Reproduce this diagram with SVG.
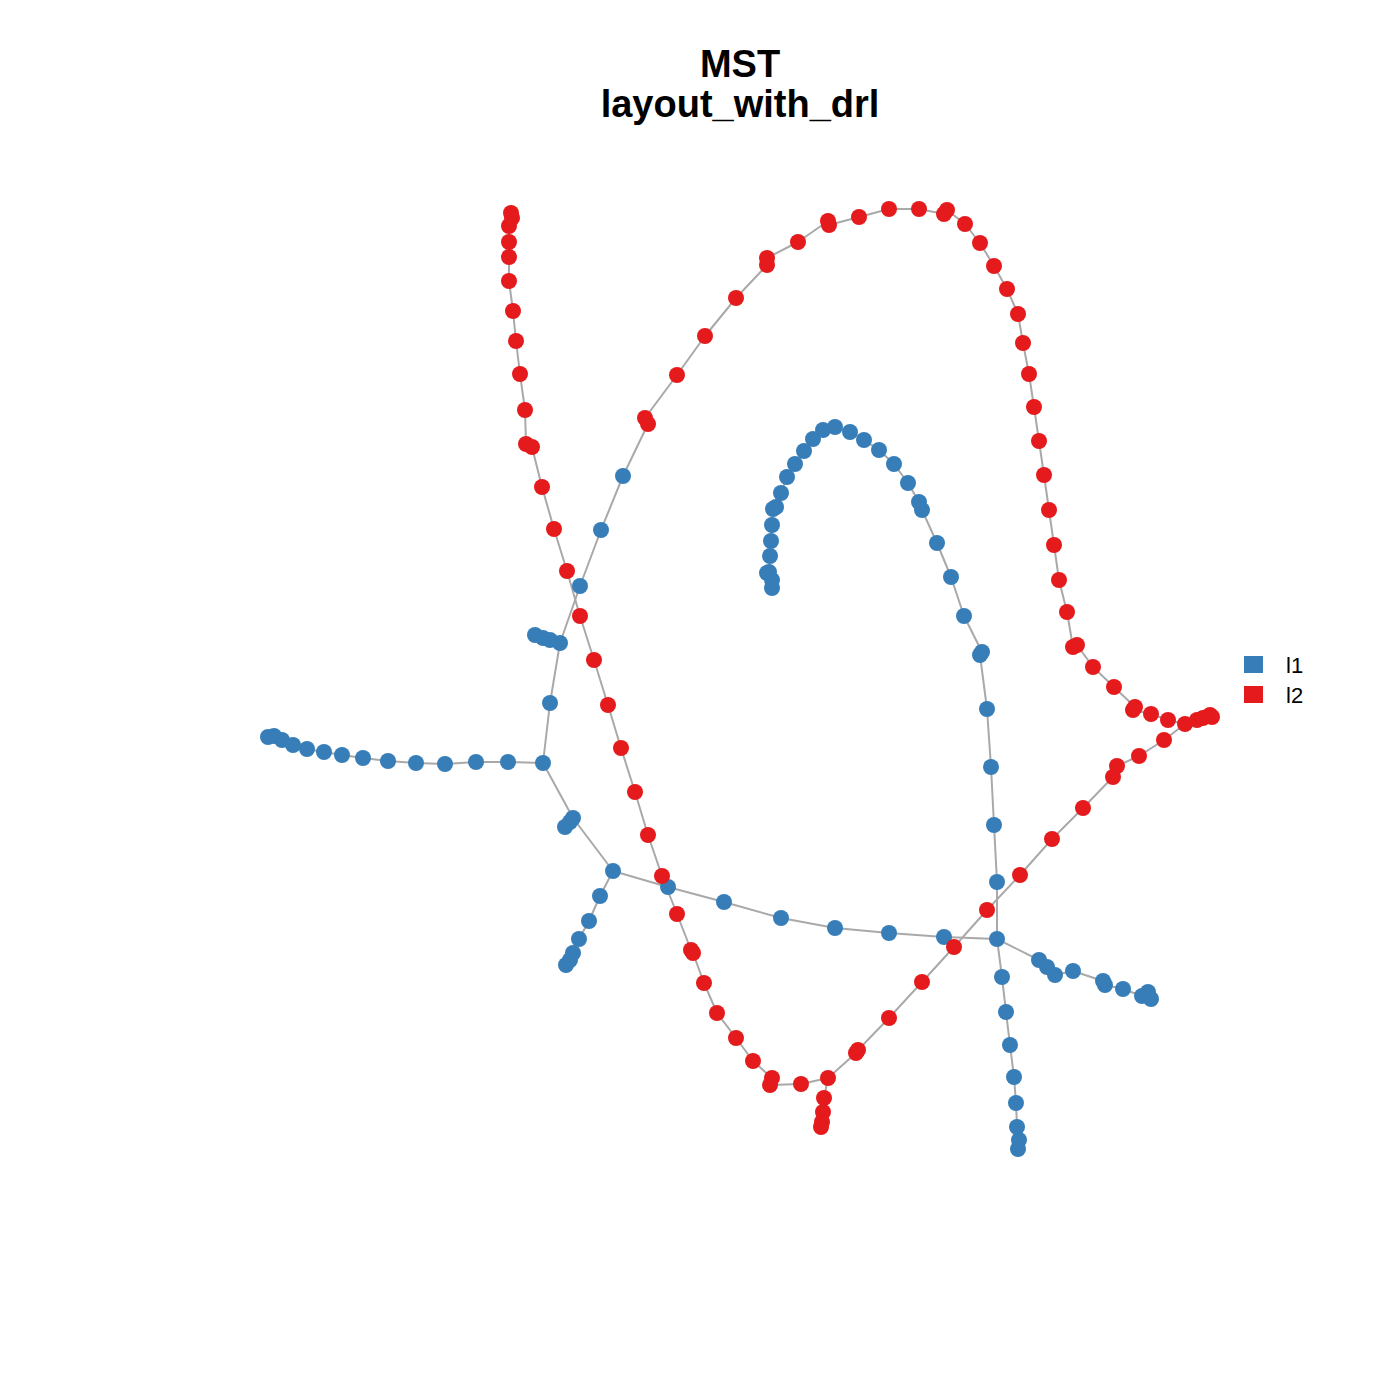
<svg xmlns="http://www.w3.org/2000/svg" width="1400" height="1400" viewBox="0 0 1400 1400">
<style>
.e{fill:none;stroke:#A9A9A9;stroke-width:2;stroke-linejoin:round}
.b{fill:#377EB8}
.r{fill:#E41A1C}
.t{font-family:"Liberation Sans",Arial,sans-serif;font-weight:bold;font-size:38px;text-anchor:middle;fill:#000}
.l{font-family:"Liberation Sans",Arial,sans-serif;font-size:22px;fill:#000}
</style>
<rect width="1400" height="1400" fill="#fff"/>
<text class="t" x="740" y="77">MST</text>
<text class="t" x="740" y="117">layout_with_drl</text>
<g id="connectors">
<polyline class="e" points="511,213 512,218 509,226 509,242 509,257 509,281 513,311 516,341 520,374 525,410 526,444 532,447 542,487 554,529 567,571 580,616 594,660 608,705 621,748 635,792 648,835 662,876 677,914 691,950 693,953 704,983 717,1013 736,1038 753,1061 772,1078 770,1085 801,1084 828,1078 856,1053 858,1050 889,1018 922,982 954,947 987,910 1020,875 1052,839 1083,808 1113,777 1117,766 1139,756 1164,740 1185,724 1197,720 1203,718 1210,715 1212,717"/>
<polyline class="e" points="828,1078 824,1098 823,1112 822,1122 821,1127"/>
<polyline class="e" points="1185,724 1168,720 1151,714 1133,710 1135,707 1114,687 1093,667 1077,645 1073,647 1067,612 1059,580 1054,545 1049,510 1044,475 1039,441 1034,407 1029,374 1023,343 1018,314 1007,289 994,266 980,243 965,224 947,210 944,214 919,209 889,209 859,217 829,225 828,221 798,242 767,258 767,265 736,298 705,336 677,375 645,418 648,424 623,476 601,530 580,586 560,643 550,703 543,763"/>
<polyline class="e" points="560,643 550,640 543,638 535,635"/>
<polyline class="e" points="543,763 508,762 476,762 445,764 416,763 388,761 363,758 342,755 324,752 307,749 293,745 282,740 274,736 268,737"/>
<polyline class="e" points="543,763 573,818 613,871 668,887 724,902 781,918 835,928 889,933 944,937 997,939 1039,960 1047,967 1055,975 1073,971 1103,981 1105,985 1123,989 1142,996 1148,992 1151,999"/>
<polyline class="e" points="573,818 570,822 565,827"/>
<polyline class="e" points="613,871 600,896 589,921 579,939 573,953 570,960 566,965"/>
<polyline class="e" points="997,939 1002,977 1006,1012 1010,1045 1014,1077 1016,1103 1017,1127 1019,1140 1018,1149"/>
<polyline class="e" points="997,939 997,882 994,825 991,767 987,709 980,655 982,652 964,616 951,577 937,543 922,510 919,502 908,483 894,464 879,450 864,440 850,432 835,427 823,430 813,439 804,451 795,464 787,477 781,493 776,507 773,509 772,525 771,541 770,556 769,572 767,573 772,580 772,588"/>
</g>
<g id="nodes-l1" class="b">
<g id="b1"><circle cx="623" cy="476" r="8"/></g>
<g id="b2"><circle cx="601" cy="530" r="8"/></g>
<g id="b3"><circle cx="580" cy="586" r="8"/></g>
<g id="b4"><circle cx="535" cy="635" r="8"/></g>
<g id="b5"><circle cx="543" cy="638" r="8"/></g>
<g id="b6"><circle cx="550" cy="640" r="8"/></g>
<g id="b7"><circle cx="560" cy="643" r="8"/></g>
<g id="b8"><circle cx="550" cy="703" r="8"/></g>
<g id="b9"><circle cx="543" cy="763" r="8"/></g>
<g id="b10"><circle cx="508" cy="762" r="8"/></g>
<g id="b11"><circle cx="476" cy="762" r="8"/></g>
<g id="b12"><circle cx="445" cy="764" r="8"/></g>
<g id="b13"><circle cx="416" cy="763" r="8"/></g>
<g id="b14"><circle cx="388" cy="761" r="8"/></g>
<g id="b15"><circle cx="363" cy="758" r="8"/></g>
<g id="b16"><circle cx="342" cy="755" r="8"/></g>
<g id="b17"><circle cx="324" cy="752" r="8"/></g>
<g id="b18"><circle cx="307" cy="749" r="8"/></g>
<g id="b19"><circle cx="293" cy="745" r="8"/></g>
<g id="b20"><circle cx="282" cy="740" r="8"/></g>
<g id="b21"><circle cx="274" cy="736" r="8"/></g>
<g id="b22"><circle cx="268" cy="737" r="8"/></g>
<g id="b23"><circle cx="573" cy="818" r="8"/></g>
<g id="b24"><circle cx="570" cy="822" r="8"/></g>
<g id="b25"><circle cx="565" cy="827" r="8"/></g>
<g id="b26"><circle cx="613" cy="871" r="8"/></g>
<g id="b27"><circle cx="600" cy="896" r="8"/></g>
<g id="b28"><circle cx="589" cy="921" r="8"/></g>
<g id="b29"><circle cx="579" cy="939" r="8"/></g>
<g id="b30"><circle cx="573" cy="953" r="8"/></g>
<g id="b31"><circle cx="570" cy="960" r="8"/></g>
<g id="b32"><circle cx="566" cy="965" r="8"/></g>
<g id="b33"><circle cx="668" cy="887" r="8"/></g>
<g id="b34"><circle cx="724" cy="902" r="8"/></g>
<g id="b35"><circle cx="781" cy="918" r="8"/></g>
<g id="b36"><circle cx="835" cy="928" r="8"/></g>
<g id="b37"><circle cx="889" cy="933" r="8"/></g>
<g id="b38"><circle cx="944" cy="937" r="8"/></g>
<g id="b39"><circle cx="997" cy="939" r="8"/></g>
<g id="b40"><circle cx="1039" cy="960" r="8"/></g>
<g id="b41"><circle cx="1047" cy="967" r="8"/></g>
<g id="b42"><circle cx="1055" cy="975" r="8"/></g>
<g id="b43"><circle cx="1073" cy="971" r="8"/></g>
<g id="b44"><circle cx="1103" cy="981" r="8"/></g>
<g id="b45"><circle cx="1105" cy="985" r="8"/></g>
<g id="b46"><circle cx="1123" cy="989" r="8"/></g>
<g id="b47"><circle cx="1142" cy="996" r="8"/></g>
<g id="b48"><circle cx="1148" cy="992" r="8"/></g>
<g id="b49"><circle cx="1151" cy="999" r="8"/></g>
<g id="b50"><circle cx="1002" cy="977" r="8"/></g>
<g id="b51"><circle cx="1006" cy="1012" r="8"/></g>
<g id="b52"><circle cx="1010" cy="1045" r="8"/></g>
<g id="b53"><circle cx="1014" cy="1077" r="8"/></g>
<g id="b54"><circle cx="1016" cy="1103" r="8"/></g>
<g id="b55"><circle cx="1017" cy="1127" r="8"/></g>
<g id="b56"><circle cx="1019" cy="1140" r="8"/></g>
<g id="b57"><circle cx="1018" cy="1149" r="8"/></g>
<g id="b58"><circle cx="997" cy="882" r="8"/></g>
<g id="b59"><circle cx="994" cy="825" r="8"/></g>
<g id="b60"><circle cx="991" cy="767" r="8"/></g>
<g id="b61"><circle cx="987" cy="709" r="8"/></g>
<g id="b62"><circle cx="980" cy="655" r="8"/></g>
<g id="b63"><circle cx="982" cy="652" r="8"/></g>
<g id="b64"><circle cx="964" cy="616" r="8"/></g>
<g id="b65"><circle cx="951" cy="577" r="8"/></g>
<g id="b66"><circle cx="937" cy="543" r="8"/></g>
<g id="b67"><circle cx="922" cy="510" r="8"/></g>
<g id="b68"><circle cx="919" cy="502" r="8"/></g>
<g id="b69"><circle cx="908" cy="483" r="8"/></g>
<g id="b70"><circle cx="894" cy="464" r="8"/></g>
<g id="b71"><circle cx="879" cy="450" r="8"/></g>
<g id="b72"><circle cx="864" cy="440" r="8"/></g>
<g id="b73"><circle cx="850" cy="432" r="8"/></g>
<g id="b74"><circle cx="835" cy="427" r="8"/></g>
<g id="b75"><circle cx="823" cy="430" r="8"/></g>
<g id="b76"><circle cx="813" cy="439" r="8"/></g>
<g id="b77"><circle cx="804" cy="451" r="8"/></g>
<g id="b78"><circle cx="795" cy="464" r="8"/></g>
<g id="b79"><circle cx="787" cy="477" r="8"/></g>
<g id="b80"><circle cx="781" cy="493" r="8"/></g>
<g id="b81"><circle cx="776" cy="507" r="8"/></g>
<g id="b82"><circle cx="773" cy="509" r="8"/></g>
<g id="b83"><circle cx="772" cy="525" r="8"/></g>
<g id="b84"><circle cx="771" cy="541" r="8"/></g>
<g id="b85"><circle cx="770" cy="556" r="8"/></g>
<g id="b86"><circle cx="769" cy="572" r="8"/></g>
<g id="b87"><circle cx="767" cy="573" r="8"/></g>
<g id="b88"><circle cx="772" cy="580" r="8"/></g>
<g id="b89"><circle cx="772" cy="588" r="8"/></g>
</g>
<g id="nodes-l2" class="r">
<g id="r1"><circle cx="511" cy="213" r="8"/></g>
<g id="r2"><circle cx="512" cy="218" r="8"/></g>
<g id="r3"><circle cx="509" cy="226" r="8"/></g>
<g id="r4"><circle cx="509" cy="242" r="8"/></g>
<g id="r5"><circle cx="509" cy="257" r="8"/></g>
<g id="r6"><circle cx="509" cy="281" r="8"/></g>
<g id="r7"><circle cx="513" cy="311" r="8"/></g>
<g id="r8"><circle cx="516" cy="341" r="8"/></g>
<g id="r9"><circle cx="520" cy="374" r="8"/></g>
<g id="r10"><circle cx="525" cy="410" r="8"/></g>
<g id="r11"><circle cx="526" cy="444" r="8"/></g>
<g id="r12"><circle cx="532" cy="447" r="8"/></g>
<g id="r13"><circle cx="542" cy="487" r="8"/></g>
<g id="r14"><circle cx="554" cy="529" r="8"/></g>
<g id="r15"><circle cx="567" cy="571" r="8"/></g>
<g id="r16"><circle cx="580" cy="616" r="8"/></g>
<g id="r17"><circle cx="594" cy="660" r="8"/></g>
<g id="r18"><circle cx="608" cy="705" r="8"/></g>
<g id="r19"><circle cx="621" cy="748" r="8"/></g>
<g id="r20"><circle cx="635" cy="792" r="8"/></g>
<g id="r21"><circle cx="648" cy="835" r="8"/></g>
<g id="r22"><circle cx="662" cy="876" r="8"/></g>
<g id="r23"><circle cx="677" cy="914" r="8"/></g>
<g id="r24"><circle cx="691" cy="950" r="8"/></g>
<g id="r25"><circle cx="693" cy="953" r="8"/></g>
<g id="r26"><circle cx="704" cy="983" r="8"/></g>
<g id="r27"><circle cx="717" cy="1013" r="8"/></g>
<g id="r28"><circle cx="736" cy="1038" r="8"/></g>
<g id="r29"><circle cx="753" cy="1061" r="8"/></g>
<g id="r30"><circle cx="772" cy="1078" r="8"/></g>
<g id="r31"><circle cx="770" cy="1085" r="8"/></g>
<g id="r32"><circle cx="801" cy="1084" r="8"/></g>
<g id="r33"><circle cx="828" cy="1078" r="8"/></g>
<g id="r34"><circle cx="824" cy="1098" r="8"/></g>
<g id="r35"><circle cx="823" cy="1112" r="8"/></g>
<g id="r36"><circle cx="822" cy="1122" r="8"/></g>
<g id="r37"><circle cx="821" cy="1127" r="8"/></g>
<g id="r38"><circle cx="856" cy="1053" r="8"/></g>
<g id="r39"><circle cx="858" cy="1050" r="8"/></g>
<g id="r40"><circle cx="889" cy="1018" r="8"/></g>
<g id="r41"><circle cx="922" cy="982" r="8"/></g>
<g id="r42"><circle cx="954" cy="947" r="8"/></g>
<g id="r43"><circle cx="987" cy="910" r="8"/></g>
<g id="r44"><circle cx="1020" cy="875" r="8"/></g>
<g id="r45"><circle cx="1052" cy="839" r="8"/></g>
<g id="r46"><circle cx="1083" cy="808" r="8"/></g>
<g id="r47"><circle cx="1113" cy="777" r="8"/></g>
<g id="r48"><circle cx="1117" cy="766" r="8"/></g>
<g id="r49"><circle cx="1139" cy="756" r="8"/></g>
<g id="r50"><circle cx="1164" cy="740" r="8"/></g>
<g id="r51"><circle cx="1185" cy="724" r="8"/></g>
<g id="r52"><circle cx="1197" cy="720" r="8"/></g>
<g id="r53"><circle cx="1203" cy="718" r="8"/></g>
<g id="r54"><circle cx="1210" cy="715" r="8"/></g>
<g id="r55"><circle cx="1212" cy="717" r="8"/></g>
<g id="r56"><circle cx="1168" cy="720" r="8"/></g>
<g id="r57"><circle cx="1151" cy="714" r="8"/></g>
<g id="r58"><circle cx="1133" cy="710" r="8"/></g>
<g id="r59"><circle cx="1135" cy="707" r="8"/></g>
<g id="r60"><circle cx="1114" cy="687" r="8"/></g>
<g id="r61"><circle cx="1093" cy="667" r="8"/></g>
<g id="r62"><circle cx="1077" cy="645" r="8"/></g>
<g id="r63"><circle cx="1073" cy="647" r="8"/></g>
<g id="r64"><circle cx="1067" cy="612" r="8"/></g>
<g id="r65"><circle cx="1059" cy="580" r="8"/></g>
<g id="r66"><circle cx="1054" cy="545" r="8"/></g>
<g id="r67"><circle cx="1049" cy="510" r="8"/></g>
<g id="r68"><circle cx="1044" cy="475" r="8"/></g>
<g id="r69"><circle cx="1039" cy="441" r="8"/></g>
<g id="r70"><circle cx="1034" cy="407" r="8"/></g>
<g id="r71"><circle cx="1029" cy="374" r="8"/></g>
<g id="r72"><circle cx="1023" cy="343" r="8"/></g>
<g id="r73"><circle cx="1018" cy="314" r="8"/></g>
<g id="r74"><circle cx="1007" cy="289" r="8"/></g>
<g id="r75"><circle cx="994" cy="266" r="8"/></g>
<g id="r76"><circle cx="980" cy="243" r="8"/></g>
<g id="r77"><circle cx="965" cy="224" r="8"/></g>
<g id="r78"><circle cx="947" cy="210" r="8"/></g>
<g id="r79"><circle cx="944" cy="214" r="8"/></g>
<g id="r80"><circle cx="919" cy="209" r="8"/></g>
<g id="r81"><circle cx="889" cy="209" r="8"/></g>
<g id="r82"><circle cx="859" cy="217" r="8"/></g>
<g id="r83"><circle cx="829" cy="225" r="8"/></g>
<g id="r84"><circle cx="828" cy="221" r="8"/></g>
<g id="r85"><circle cx="798" cy="242" r="8"/></g>
<g id="r86"><circle cx="767" cy="258" r="8"/></g>
<g id="r87"><circle cx="767" cy="265" r="8"/></g>
<g id="r88"><circle cx="736" cy="298" r="8"/></g>
<g id="r89"><circle cx="705" cy="336" r="8"/></g>
<g id="r90"><circle cx="677" cy="375" r="8"/></g>
<g id="r91"><circle cx="645" cy="418" r="8"/></g>
<g id="r92"><circle cx="648" cy="424" r="8"/></g>
</g>
<g id="legend">
<rect class="b" x="1244" y="656" width="19" height="17"/>
<rect class="r" x="1244" y="686" width="19" height="17"/>
<text class="l" x="1286" y="673">l1</text>
<text class="l" x="1286" y="703">l2</text>
</g>
</svg>
